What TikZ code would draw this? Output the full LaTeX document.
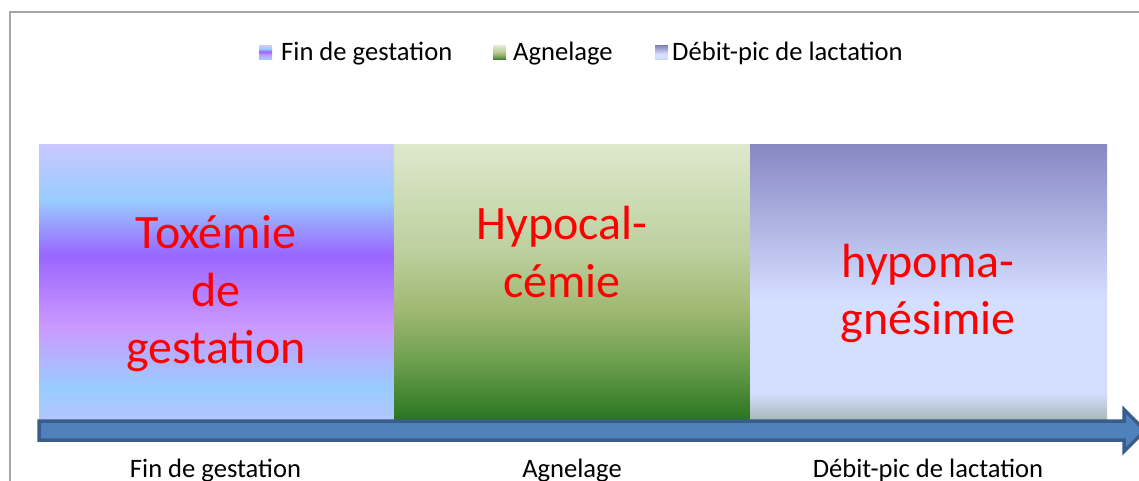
\documentclass[tikz,border=0pt]{standalone}
\usepackage{fontspec}
\setmainfont{Carlito}
\usetikzlibrary{positioning}

\definecolor{framegray}{HTML}{A6A6A6}
\definecolor{arrowfill}{HTML}{4F81BD}
\definecolor{arrowline}{HTML}{385D8A}
\definecolor{labelred}{HTML}{FF0000}

% shadings: 25bp = bottom of the box, 75bp = top
\pgfdeclareverticalshading{gestshade}{100bp}{%
  color(0bp)=(rgb,255:red,179;green,198;blue,255);
  color(25bp)=(rgb,255:red,179;green,198;blue,255);
  color(31bp)=(rgb,255:red,153;green,204;blue,255);
  color(42bp)=(rgb,255:red,204;green,153;blue,255);
  color(55bp)=(rgb,255:red,153;green,102;blue,255);
  color(65bp)=(rgb,255:red,153;green,204;blue,255);
  color(75bp)=(rgb,255:red,200;green,200;blue,255);
  color(100bp)=(rgb,255:red,200;green,200;blue,255)}
\pgfdeclareverticalshading{agnshade}{100bp}{%
  color(0bp)=(rgb,255:red,42;green,117;blue,32);
  color(25bp)=(rgb,255:red,42;green,117;blue,32);
  color(36bp)=(rgb,255:red,111;green,160;blue,80);
  color(45bp)=(rgb,255:red,160;green,184;blue,114);
  color(56bp)=(rgb,255:red,189;green,208;blue,159);
  color(75bp)=(rgb,255:red,221;green,232;blue,204);
  color(100bp)=(rgb,255:red,221;green,232;blue,204)}
\pgfdeclareverticalshading{lactshade}{100bp}{%
  color(0bp)=(rgb,255:red,168;green,184;blue,184);
  color(25bp)=(rgb,255:red,168;green,184;blue,184);
  color(30bp)=(rgb,255:red,212;green,222;blue,255);
  color(47bp)=(rgb,255:red,212;green,222;blue,255);
  color(75bp)=(rgb,255:red,136;green,136;blue,196);
  color(100bp)=(rgb,255:red,136;green,136;blue,196)}

\begin{document}
\begin{tikzpicture}[x=1pt,y=-1pt,
  bar/.style={rectangle, inner sep=0pt, minimum height=275pt, shade},
  key/.style={rectangle, inner sep=0pt, minimum width=13pt, minimum height=14pt, shade},
  keytext/.style={anchor=base west, inner sep=0pt, font=\fontsize{26.6}{32}\selectfont},
  phase/.style={anchor=base, inner sep=0pt, font=\fontsize{26.6}{32}\selectfont},
  disease/.style={align=center, inner sep=0pt, text=labelred,
    font=\fontsize{48}{57.5}\selectfont}]
\useasboundingbox (0,0) rectangle (1139,481);
\clip (0,0) rectangle (1139,481);
% frame
\draw [framegray, line width=2pt] (9.5,481) -- (9.5,12) -- (1139,12);
% legend
\node [key, shading=gestshade] (kgest) at (265.5,53) {};
\node [keytext] (tgest) at (281,61) {Fin de gestation};
\node [key, shading=agnshade] (kagn) at (499.5,53) {};
\node [keytext] (tagn) at (513,61) {Agnelage};
\node [key, shading=lactshade] (klact) at (661.5,53) {};
\node [keytext] (tlact) at (672,61) {Débit-pic de lactation};
% bars
\node [bar, minimum width=355pt, shading=gestshade] (gest) at (216.5,282.5) {};
\node [bar, minimum width=356pt, shading=agnshade] (agn) at (572,282.5) {};
\node [bar, minimum width=357pt, shading=lactshade] (lact) at (928.5,282.5) {};
% diseases
\node [disease] (toxemie) at (216,294) {Toxémie\\de\\gestation};
\node [disease] (calc) at (562,252) {Hypocal-\\cémie};
\node [disease] (magn) at (928,293.5) {hypoma-\\gnésimie};
% time axis
\filldraw [fill=arrowfill, draw=arrowline, line width=3.5pt, line join=miter]
  (39,421) -- (1124,421) -- (1124,409.5) -- (1145,430.5) -- (1124,451.5)
  -- (1124,440) -- (39,440) -- cycle;
% phases
\node [phase] (pgest) at (215.5,477) {Fin de gestation};
\node [phase] (pagn) at (572,477) {Agnelage};
\node [phase] (plact) at (928,477) {Débit-pic de lactation};
\end{tikzpicture}
\end{document}
